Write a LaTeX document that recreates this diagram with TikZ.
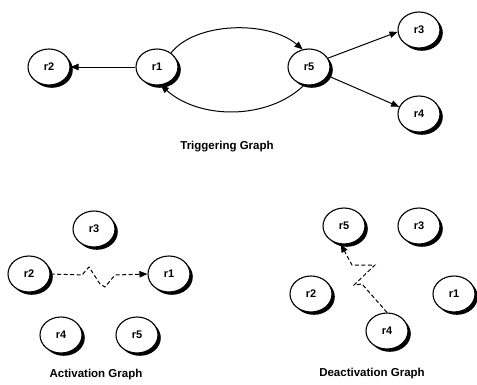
\documentclass[tikz,border=0pt]{standalone}
\usepackage{fontspec}
\setmainfont{Liberation Sans}
\usetikzlibrary{arrows.meta,shapes.geometric,shadows}
\begin{document}
\begin{tikzpicture}[x=1pt,y=-1pt,
  rnode/.style={ellipse,draw=black,line width=1.1pt,fill=white,
    minimum width=42pt,minimum height=36pt,inner sep=0pt,
    font=\fontsize{11}{12}\selectfont\bfseries,
    drop shadow={shadow xshift=2.8pt,shadow yshift=-2.8pt,fill=black,opacity=1}},
  title/.style={font=\fontsize{11.5}{13}\selectfont\bfseries},
  arr/.style={-{Triangle[length=8pt,width=6.5pt]},line width=1pt},
  zig/.style={arr,dash pattern=on 4pt off 2.5pt}]
\useasboundingbox (0,0) rectangle (477,384);

% Triggering graph
\node[rnode] (t2) at (49,67) {r2};
\node[rnode] (t1) at (157,67) {r1};
\node[rnode] (t5) at (309,67) {r5};
\node[rnode] (t3) at (419,30) {r3};
\node[rnode] (t4) at (419,114) {r4};
\node[title] (tt) at (227,147) {Triggering Graph};

\draw[arr] (t1) -- (t2);
\draw[arr] (t1.45) .. controls (195,22) and (268,20) .. (t5.110);
\draw[arr] (t5.-105) .. controls (268,120) and (200,120) .. (t1.-78);
\draw[arr] (t5.25) -- (t3.185);
\draw[arr] (t5.-25) -- (t4.160);

% Activation graph
\node[rnode] (a3) at (94,229) {r3};
\node[rnode] (a2) at (29,274) {r2};
\node[rnode] (a1) at (169,274) {r1};
\node[rnode] (a4) at (61,335) {r4};
\node[rnode] (a5) at (137,335) {r5};
\node[title] (at) at (96,375) {Activation Graph};

\coordinate (z1) at (82,275);
\coordinate (z2) at (89,267);
\coordinate (z3) at (100,284);
\coordinate (z4) at (105,287);
\coordinate (z5) at (115,275);
\draw[zig] (a2.east) -- (z1) -- (z2) -- (z3) -- (z4) -- (z5) -- (a1.west);

% Deactivation graph
\node[rnode] (d5) at (344,226) {r5};
\node[rnode] (d3) at (419,226) {r3};
\node[rnode] (d2) at (311,294) {r2};
\node[rnode] (d1) at (454,294) {r1};
\node[rnode] (d4) at (387,331) {r4};
\node[title] (dt) at (372,374) {Deactivation Graph};

\coordinate (y1) at (362,284);
\coordinate (y2) at (354,285);
\coordinate (y3) at (375,265);
\coordinate (y4) at (352,265);
\draw[zig] (d4.north) -- (y1) -- (y2) -- (y3) -- (y4) -- (d5.-100);
\end{tikzpicture}
\end{document}
